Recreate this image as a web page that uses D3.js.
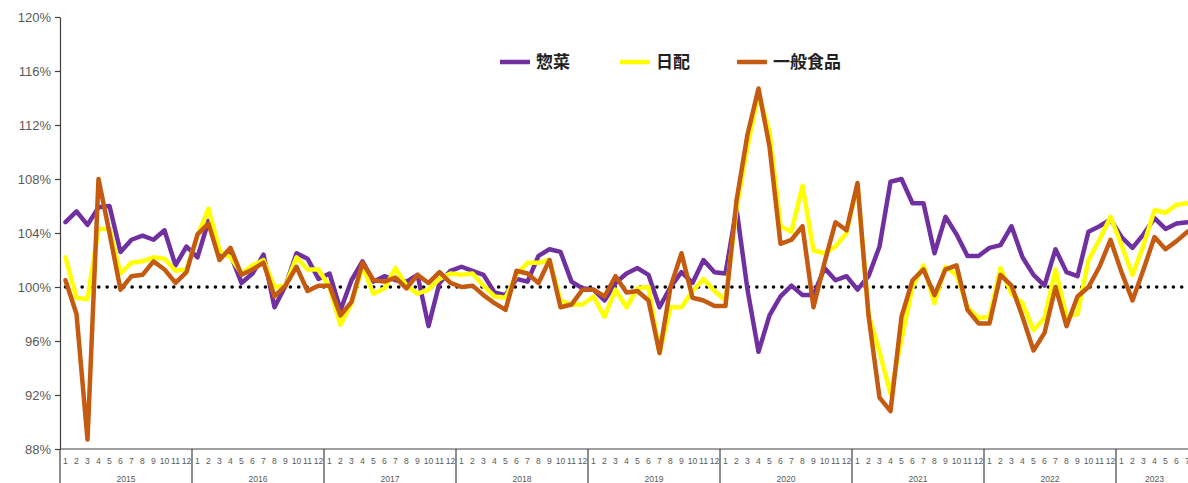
<!DOCTYPE html>
<html><head><meta charset="utf-8">
<script src="https://cdn.jsdelivr.net/npm/d3@7"></script>
<style>
html,body{margin:0;padding:0;background:#fff;overflow:hidden;}
</style>
</head><body>
<svg id="chart" width="1188" height="483"></svg>
<script>
const years = ["2015","2016","2017","2018","2019","2020","2021","2022","2023"];
const monthsPerYear = [12,12,12,12,12,12,12,12,7];
const seriesNames = ["惣菜","日配","一般食品"];
const seriesColors = ["#7030A0","#FFFF00","#C55A11"];
const yTicks = [88,92,96,100,104,108,112,116,120];

const sozai = [
104.8,105.6,104.6,105.9,106.0,102.6,103.5,103.8,103.5,104.2,101.6,103.0,
102.2,104.9,102.4,102.4,100.3,101.0,102.4,98.5,100.1,102.5,102.1,100.6,
101.0,98.3,100.5,101.9,100.4,100.8,100.5,100.4,100.9,97.1,100.3,101.2,
101.5,101.2,100.9,99.6,99.4,100.6,100.4,102.3,102.8,102.6,100.4,99.9,
99.8,99.0,100.3,101.0,101.4,100.9,98.5,100.0,101.1,100.3,102.0,101.1,
101.0,105.8,99.8,95.2,97.9,99.3,100.1,99.4,99.4,101.4,100.5,100.8,
99.8,100.8,103.0,107.8,108.0,106.2,106.2,102.5,105.2,103.9,102.3,102.3,
102.9,103.1,104.5,102.2,100.9,100.1,102.8,101.1,100.8,104.1,104.5,105.0,
103.7,102.9,103.9,105.1,104.3,104.7,104.8];
const nippai = [
102.2,99.2,99.1,104.3,104.3,101.0,101.8,101.9,102.2,102.1,101.2,101.3,
103.8,105.8,102.7,102.2,101.0,101.6,102.0,100.0,100.1,102.2,101.3,101.3,
100.0,97.2,98.8,101.5,99.5,99.9,101.4,100.1,99.5,99.8,100.6,101.0,
100.9,101.0,100.1,99.3,99.2,100.9,101.8,101.8,102.0,99.0,98.7,98.7,
99.3,97.8,99.8,98.5,99.9,100.0,95.1,98.5,98.5,99.7,100.6,99.7,
99.0,105.8,110.4,114.3,111.5,104.5,104.1,107.5,102.7,102.5,103.0,104.0,
107.6,98.0,95.2,92.1,96.1,100.0,101.6,98.8,101.5,100.9,98.5,97.7,
97.8,101.4,99.5,98.8,96.8,97.7,101.3,97.8,98.0,102.0,103.5,105.2,
103.1,100.9,103.1,105.7,105.5,106.1,106.2];
const ippan = [
100.5,98.0,88.7,108.0,104.0,99.8,100.8,100.9,101.9,101.3,100.3,101.1,
103.9,104.7,102.0,102.9,100.9,101.3,101.8,99.3,100.1,101.5,99.7,100.1,
100.1,97.9,98.9,101.8,100.5,100.4,100.7,99.9,100.9,100.3,101.1,100.3,
100.0,100.1,99.4,98.8,98.3,101.2,101.0,100.3,102.0,98.5,98.7,99.8,
99.8,99.3,100.8,99.6,99.7,99.0,95.1,100.0,102.5,99.2,99.0,98.6,
98.6,106.4,111.3,114.7,110.4,103.2,103.5,104.5,98.5,101.8,104.8,104.2,
107.7,97.9,91.8,90.8,97.8,100.5,101.3,99.4,101.3,101.6,98.3,97.3,
97.3,100.9,100.1,97.8,95.3,96.6,100.0,97.1,99.3,100.0,101.5,103.5,
101.1,99.0,101.3,103.7,102.8,103.4,104.1];

(function(){
const cats = [];
years.forEach((yr,yi)=>{ for(let m=1;m<=monthsPerYear[yi];m++) cats.push({key:yr+"-"+m, year:yr, month:m}); });

const svg = d3.select("#chart");
const mLeft = 60, mTop = 17, mBottom = 449;
const mRight = mLeft + 11*cats.length;

const x = d3.scaleBand().domain(cats.map(c=>c.key)).range([mLeft,mRight]).paddingInner(0).paddingOuter(0);
const y = d3.scaleLinear().domain([88,120]).range([mBottom,mTop]);

const yAxis = d3.axisLeft(y).tickValues(yTicks).tickFormat(d=>d+"%").tickSize(5).tickSizeOuter(0);
const gy = svg.append("g").attr("transform",`translate(${mLeft},0)`).call(yAxis);
gy.select(".domain").attr("stroke","#404040").attr("stroke-width",1.2);
gy.selectAll(".tick line").attr("stroke","#404040").attr("stroke-width",1.2);
gy.selectAll(".tick text").attr("fill","#595959").attr("font-family","'Liberation Sans',Arial,sans-serif").attr("font-size","13px").attr("x",-9);

svg.append("line").attr("x1",mLeft).attr("x2",1188).attr("y1",mBottom).attr("y2",mBottom).attr("stroke","#404040").attr("stroke-width",1.2);

svg.append("g").selectAll("text").data(cats).join("text")
  .attr("x",d=>x(d.key)+x.bandwidth()/2).attr("y",mBottom+15)
  .attr("text-anchor","middle").attr("fill","#595959")
  .attr("font-family","'Liberation Sans',Arial,sans-serif").attr("font-size","8.6px")
  .text(d=>d.month);

let idx = 0;
const yearInfo = years.map((yr,yi)=>{ const s = idx; idx += monthsPerYear[yi]; return {yr, start:cats[s].key, end:cats[idx-1].key}; });
const sepXs = [mLeft].concat(yearInfo.map(d=>x(d.end)+x.bandwidth()));
svg.append("g").selectAll("line").data(sepXs).join("line")
  .attr("x1",d=>d).attr("x2",d=>d).attr("y1",mBottom).attr("y2",483)
  .attr("stroke","#404040").attr("stroke-width",1.2);
svg.append("g").selectAll("text").data(yearInfo).join("text")
  .attr("x",d=>(x(d.start)+x(d.end)+x.bandwidth())/2).attr("y",mBottom+33)
  .attr("text-anchor","middle").attr("fill","#595959")
  .attr("font-family","'Liberation Sans',Arial,sans-serif").attr("font-size","8.6px")
  .text(d=>d.yr);

svg.append("line").attr("x1",x(cats[0].key)+x.bandwidth()/2).attr("x2",1190)
  .attr("y1",y(100)).attr("y2",y(100))
  .attr("stroke","#000").attr("stroke-width",3.6).attr("stroke-linecap","round")
  .attr("stroke-dasharray","0,8.33");

const seriesData = [sozai, nippai, ippan];
const line = d3.line().x((d,i)=>x(cats[i].key)+x.bandwidth()/2).y(d=>y(d));
seriesData.forEach((vals,si)=>{
  svg.append("path").datum(vals).attr("d",line)
    .attr("fill","none").attr("stroke",seriesColors[si]).attr("stroke-width",4.5)
    .attr("stroke-linejoin","round").attr("stroke-linecap","round");
});

const legendX = [500, 620, 737];
const lg = svg.append("g");
seriesNames.forEach((n,i)=>{
  lg.append("line").attr("x1",legendX[i]).attr("x2",legendX[i]+30).attr("y1",62).attr("y2",62)
    .attr("stroke",seriesColors[i]).attr("stroke-width",4.5);
  lg.append("text").attr("x",legendX[i]+36).attr("y",68)
    .attr("font-family","'Noto Sans CJK JP','Noto Sans CJK SC',sans-serif").attr("font-weight","bold")
    .attr("font-size","17px").attr("fill","#222").text(n);
});
})();
</script>
</body></html>
